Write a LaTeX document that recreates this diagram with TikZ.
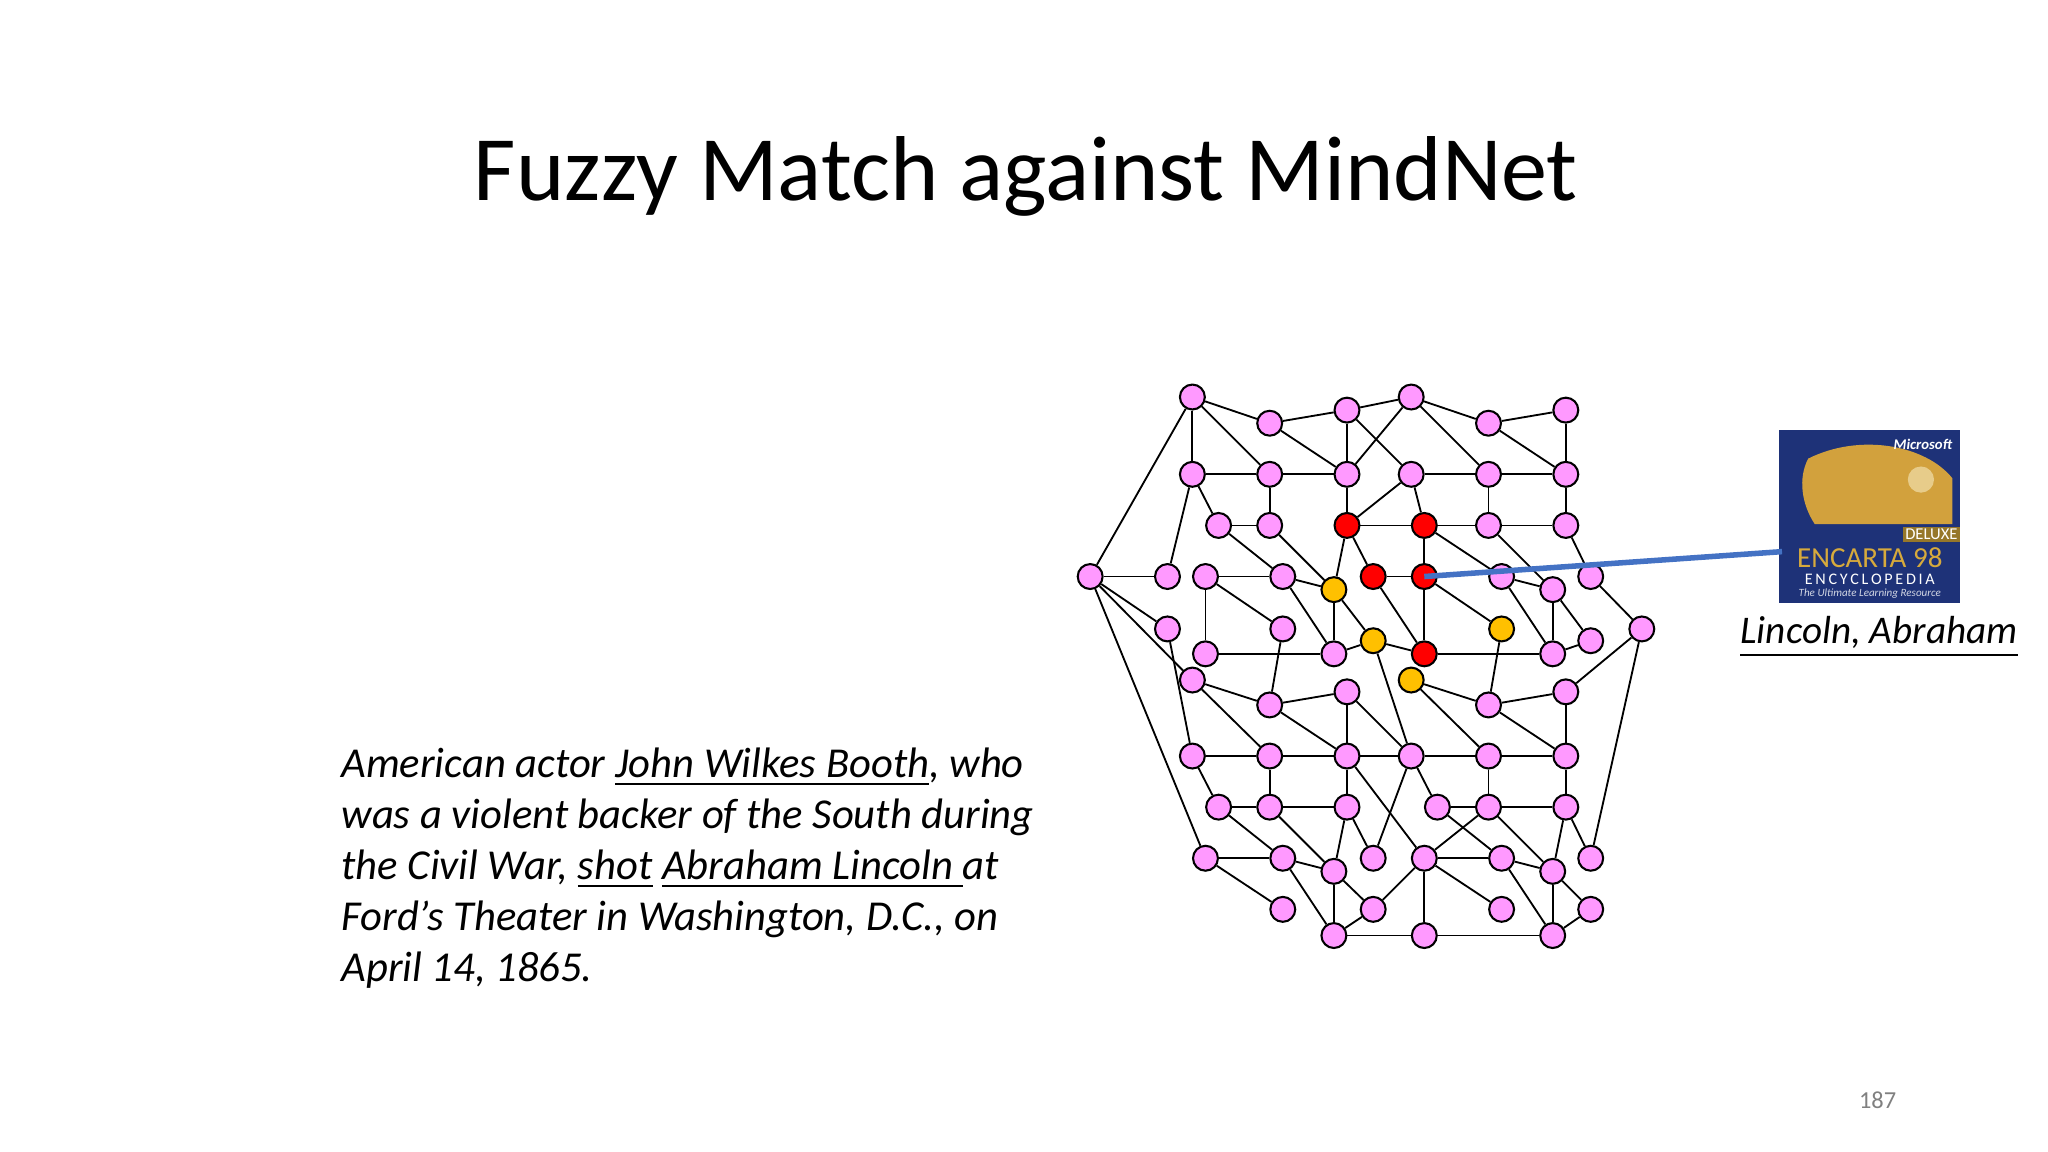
\documentclass[tikz,border=0pt]{standalone}
\usepackage{fontspec}
\setmainfont{Carlito}
\begin{document}
\begin{tikzpicture}[x=0.01cm,y=-0.01cm,
 nd/.style={circle,draw=black,line width=0.45pt,minimum size=0.19cm,inner sep=0pt,fill=pinkc},
 rd/.style={nd,fill=red},
 od/.style={nd,fill=orangec},
 ed/.style={line width=0.4pt,black},
 ln/.style={anchor=base west,inner sep=0pt,font=\fontsize{9.25}{11}\selectfont\itshape}]
\definecolor{pinkc}{RGB}{255,153,255}
\definecolor{orangec}{RGB}{255,192,0}
\definecolor{bluec}{RGB}{68,114,196}
\definecolor{navy}{RGB}{30,50,120}
\definecolor{goldc}{RGB}{215,170,60}
\useasboundingbox (0,0) rectangle (1563,879);
\node[inner sep=0pt,anchor=base,font=\fontsize{20}{24}\selectfont] (title) at (783,153) {Fuzzy Match against MindNet};
% text
\node[ln] (l1) at (260,593) {American actor \underline{John Wilkes Booth}, who};
\node[ln] (l2) at (260,632) {was a violent backer of the South during};
\node[ln] (l3) at (260,671) {the Civil War, \underline{shot} \underline{Abraham Lincoln }at};
\node[ln] (l4) at (260,710) {Ford's Theater in Washington, D.C., on};
\node[ln] (l5) at (260,749) {April 14, 1865.};
\node[inner sep=0pt,anchor=base,font=\fontsize{8.5}{10}\selectfont\itshape] (linc) at (1434,491) {\underline{Lincoln, Abraham}};
\node[inner sep=0pt,anchor=base,text=gray,font=\fontsize{5.3}{6}\selectfont] (pg) at (1433,846) {187};
% image placeholder
\fill[navy] (1358,328) rectangle (1496,460);
\fill[goldc!80!brown] (1380,350) .. controls (1420,330) and (1470,340) .. (1490,365) -- (1490,400) -- (1385,400) .. controls (1375,385) and (1372,365) .. (1380,350);
\fill[goldc!60!white] (1466,366) circle (10);
\node[text=white,font=\bfseries\itshape\fontsize{3.2}{4}\selectfont,anchor=north east,inner sep=1pt] (ms) at (1494,331) {Microsoft};
\node[font=\fontsize{3.6}{4}\selectfont,fill=goldc!70!black,inner sep=0.5pt,text=white] (dl) at (1474,408) {DELUXE};
\node[text=goldc,font=\fontsize{6.3}{7}\selectfont,inner sep=0pt] (enc) at (1427,426) {ENCARTA 98};
\node[text=white,font=\fontsize{3.5}{4}\selectfont,inner sep=0pt] (ency) at (1427,442) {E\,N\,C\,Y\,C\,L\,O\,P\,E\,D\,I\,A};
\node[text=white!80!navy,font=\itshape\fontsize{2.4}{3}\selectfont,inner sep=0pt] (ult) at (1427,453) {The Ultimate Learning Resource};
\coordinate (img) at (1360,421);
% nodes
\node[nd] (a) at (910,303) {};
\node[nd] (b) at (1077,303) {};
\node[nd] (c) at (1028,313) {};
\node[nd] (d) at (1195,313) {};
\node[nd] (e) at (969,323) {};
\node[nd] (f) at (1136,323) {};
\foreach \n/\x in {g1/910,g2/969,g3/1028,g4/1077,g5/1136,g6/1195} \node[nd] (\n) at (\x,362) {};
\node[nd] (h1) at (930,401) {}; \node[nd] (h2) at (969,401) {};
\node[rd] (h3) at (1028,401) {}; \node[rd] (h4) at (1087,401) {};
\node[nd] (h5) at (1136,401) {}; \node[nd] (h6) at (1195,401) {};
\foreach \n/\x in {i1/832,i2/891,i3/920,i4/979,i7/1146,i8/1214} \node[nd] (\n) at (\x,440) {};
\node[rd] (i5) at (1048,440) {}; \node[rd] (i6) at (1087,440) {};
\node[od] (j1) at (1018,450) {}; \node[nd] (j2) at (1185,450) {};
\node[nd] (k1) at (891,480) {}; \node[nd] (k2) at (979,480) {};
\node[od] (k3) at (1146,480) {}; \node[nd] (k4) at (1253,480) {};
\node[od] (l1n) at (1048,489) {}; \node[nd] (l2n) at (1214,489) {};
\node[nd] (m1) at (920,499) {}; \node[nd] (m2) at (1018,499) {};
\node[rd] (m3) at (1087,499) {}; \node[nd] (m4) at (1185,499) {};
\node[nd] (n1) at (910,519) {}; \node[od] (n2) at (1077,519) {};
\node[nd] (o1) at (1028,528) {}; \node[nd] (o2) at (1195,528) {};
\node[nd] (p1) at (969,538) {}; \node[nd] (p2) at (1136,538) {};
\foreach \n/\x in {q1/910,q2/969,q3/1028,q4/1077,q5/1136,q6/1195} \node[nd] (\n) at (\x,577) {};
\foreach \n/\x in {r1/930,r2/969,r3/1028,r4/1097,r5/1136,r6/1195} \node[nd] (\n) at (\x,616) {};
\foreach \n/\x in {s1/920,s2/979,s3/1048,s4/1087,s5/1146,s6/1214} \node[nd] (\n) at (\x,655) {};
\node[nd] (t1) at (1018,665) {}; \node[nd] (t2) at (1185,665) {};
\foreach \n/\x in {u1/979,u2/1048,u3/1146,u4/1214} \node[nd] (\n) at (\x,694) {};
\foreach \n/\x in {v1/1018,v2/1087,v3/1185} \node[nd] (\n) at (\x,714) {};
% edges
\foreach \p/\q in {a/i1,a/g1,a/e,a/g2,e/c,e/g3,c/g3,c/b,c/g4,g3/b,g1/g2,g2/g3,g1/h1,g2/h2,h1/h2,g3/h3,h2/j1,h1/i4,g1/i2,i1/i2,i3/i4,i4/j1,h3/j1,h3/i5,h3/h4,h3/g4,i3/m1,i3/k2,i4/m2,j1/m2,j1/l1n,m1/m2,m2/l1n,i1/k1,i1/n1,i1/s1,k1/q1,k2/p1,
b/f,b/g5,f/d,f/g6,d/g6,g4/g5,g5/g6,g4/h4,g5/h5,g6/h6,h4/h5,h5/h6,h4/i6,h4/i7,h5/j2,h6/i8,i5/i6,i6/m3,i6/k3,i7/j2,i7/m4,j2/m4,j2/l2n,i8/k4,i5/m3,m3/m4,m3/l1n,m4/l2n,k4/s6,k4/o2,k3/p2,
n1/p1,n1/q2,p1/o1,p1/q3,o1/q3,q1/q2,q2/q3,q3/q4,q4/q5,q5/q6,q1/r1,q2/r2,r1/r2,r2/r3,q3/r3,r1/s2,r2/t1,r3/t1,r3/s3,s1/s2,s1/u1,s2/t1,s2/v1,t1/v1,t1/u2,v1/u2,v1/v2,
l1n/q4,n2/p2,n2/q5,p2/o2,p2/q6,o2/q6,o1/q4,q3/s4,q4/r4,q4/s3,q5/r5,q6/r6,r4/r5,r5/r6,r5/s4,r4/s5,r5/t2,r6/t2,r6/s6,s4/s5,s5/t2,s4/u3,s4/v2,s5/v3,t2/v3,t2/u4,v3/u4,v2/v3,u2/s4}
  \draw[ed] (\p) -- (\q);
\draw[bluec,line width=1.2pt] (i6.center) -- (img);
\end{tikzpicture}
\end{document}
